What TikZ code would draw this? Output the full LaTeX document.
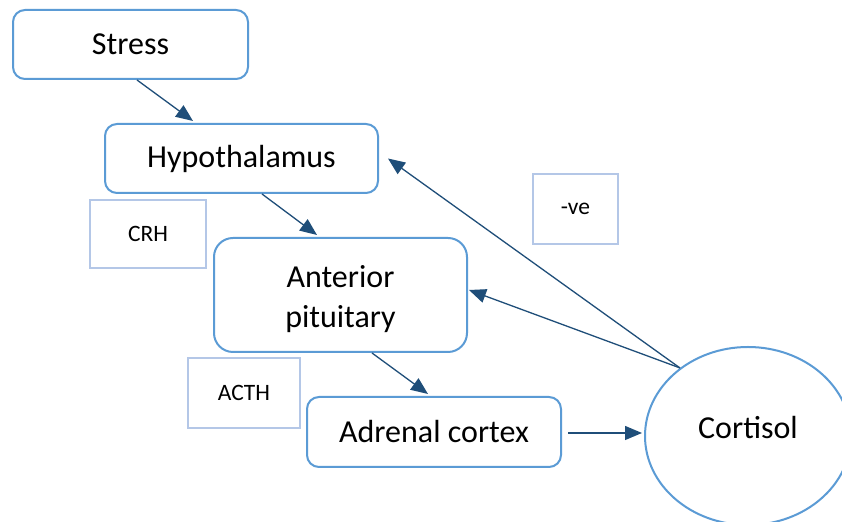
\documentclass[tikz,border=0pt]{standalone}
\usepackage{fontspec}
\setmainfont{Carlito}
\usetikzlibrary{shapes.geometric,arrows.meta}
\definecolor{boxblue}{HTML}{5B9BD5}
\definecolor{lblblue}{HTML}{B4C7E7}
\definecolor{arrblue}{HTML}{1F4E79}
\begin{document}
\begin{tikzpicture}[x=0.5pt,y=-0.5pt,
  stagetext/.style={align=center,font=\fontsize{16}{20}\selectfont,inner sep=0pt},
  stagebox/.style={draw=boxblue,line width=1pt,rounded corners=6pt,stagetext},
  lblbox/.style={draw=lblblue,line width=1pt,font=\fontsize{11.75}{14}\selectfont,inner sep=0pt},
  arr/.style={draw=arrblue,line width=0.65pt,-{Triangle[length=8.5pt,width=7pt]}}]
\useasboundingbox (0,0) rectangle (842,522);
\clip (0,0) rectangle (842,522);
\fill[white] (0,0) rectangle (842,522);

\node[stagebox,minimum width=117.5pt,minimum height=34.5pt] (stress) at (130.5,44.5) {Stress};
\node[stagebox,minimum width=136.5pt,minimum height=34.5pt] (hyp) at (241.5,158.5)
  {\raisebox{-1pt}{Hypothalamus}};
\node[stagebox,rounded corners=9.5pt,minimum width=126.5pt,minimum height=57pt,
  label={[stagetext,yshift=-2pt]center:Anterior\\pituitary}] (ap) at (340.5,295) {};
\node[stagebox,minimum width=127pt,minimum height=35pt] (adr) at (434,432)
  {\raisebox{-0.5pt}{Adrenal cortex}};
\node[draw=boxblue,line width=1pt,ellipse,minimum width=103pt,minimum height=89pt,inner sep=0pt,
  label={[stagetext,yshift=4pt]center:Cortisol}] (cort) at (748,436) {};

\node[lblbox,minimum width=58pt,minimum height=34pt] (crh) at (148,234) {CRH};
\node[lblbox,minimum width=56pt,minimum height=35pt] (acth) at (244,393) {ACTH};
\node[lblbox,minimum width=42.5pt,minimum height=35pt] (neg) at (575.5,209) {-ve};

\draw[arr] ([xshift=3.25pt]stress.south) -- ([xshift=-24.25pt,yshift=1pt]hyp.north);
\draw[arr] ([xshift=10.25pt]hyp.south) -- ([xshift=-11.75pt,yshift=1pt]ap.north);
\draw[arr] ([xshift=15.75pt]ap.south) -- ([xshift=-3pt,yshift=1pt]adr.north);
\draw[arr] ([xshift=3pt,yshift=-0.5pt]adr.east) -- ([xshift=-1pt,yshift=1.5pt]cort.west);
\draw[arr] (cort.135) -- ([xshift=4.5pt]hyp.east);
\draw[arr] (cort.135) -- ([xshift=0.5pt,yshift=2.5pt]ap.east);
\end{tikzpicture}
\end{document}
